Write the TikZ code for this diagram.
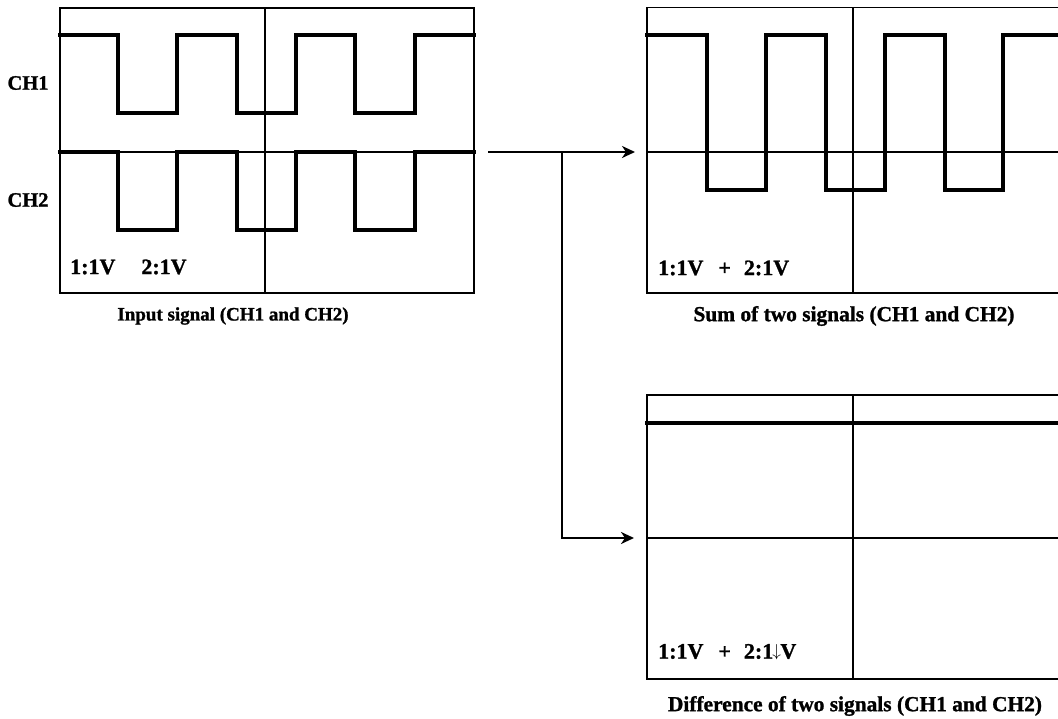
\documentclass[tikz,border=0pt]{standalone}
\usepackage{fontspec}
\setmainfont{Liberation Serif}[BoldFeatures={FakeBold=1.2}]
\usetikzlibrary{arrows.meta}
\tikzset{
  frame/.style={draw=black, line width=1.4pt, inner sep=0pt, outer sep=0pt},
  grid/.style={line width=1.4pt},
  sig/.style={line width=3.6pt, line join=miter, line cap=rect},
  conn/.style={line width=2.4pt, -{Stealth[length=13pt,width=12pt,inset=4pt]}},
  lbl/.style={font=\fontsize{20.5}{24}\selectfont\bfseries, inner sep=0pt},
  scalelbl/.style={font=\fontsize{22}{26}\selectfont\bfseries, inner sep=0pt, anchor=west},
  caplbl/.style={font=\fontsize{21.4}{25}\selectfont\bfseries, inner sep=0pt},
}
\begin{document}
\begin{tikzpicture}[x=1pt,y=-1pt]
\useasboundingbox (0,0) rectangle (1058,719);
% boxes
\node[frame, minimum width=414pt, minimum height=285pt] (inbox) at (267,150.5) {};
\node[frame, minimum width=413pt, minimum height=285.5pt] (sumbox) at (853.5,150.25) {};
\node[frame, minimum width=413pt, minimum height=284pt] (diffbox) at (853.5,537) {};
% grid lines
\draw[grid] (inbox.north -| 265,0) -- (inbox.south -| 265,0);
\draw[grid] (inbox.west |- 0,152) -- (inbox.east |- 0,152);
\draw[grid] (sumbox.north -| 853,0) -- (sumbox.south -| 853,0);
\draw[grid] (sumbox.west |- 0,152) -- (sumbox.east |- 0,152);
\draw[grid] (diffbox.north -| 853,0) -- (diffbox.south -| 853,0);
\draw[grid] (diffbox.west |- 0,538) -- (diffbox.east |- 0,538);
% signals
\draw[sig] (60,35) -- (118,35) -- (118,113) -- (177,113) -- (177,35) -- (237,35) -- (237,113) -- (296,113) -- (296,35) -- (355,35) -- (355,113) -- (415,113) -- (415,35) -- (474,35);
\draw[sig] (60,152) -- (118,152) -- (118,230) -- (177,230) -- (177,152) -- (237,152) -- (237,230) -- (296,230) -- (296,152) -- (355,152) -- (355,230) -- (415,230) -- (415,152) -- (474,152);
\draw[sig] (647,35) -- (707,35) -- (707,190) -- (766,190) -- (766,35) -- (826,35) -- (826,190) -- (885,190) -- (885,35) -- (945,35) -- (945,190) -- (1003,190) -- (1003,35) -- (1062,35);
\draw[sig] (647,423) -- (1062,423);
% labels
\node[lbl] (ch1) at (28,83) {CH1};
\node[lbl] (ch2) at (28,200) {CH2};
\node[scalelbl] (inscale) at (70,267) {1:1V\hspace{26pt}2:1V};
\node[scalelbl] (sumscale) at (658,268) {1:1V\hspace{15pt}+\hspace{13pt}2:1V};
\node[scalelbl] (diffscale) at (658,652) {1:1V\hspace{15pt}+\hspace{13pt}2:1\hspace{-1pt}\raisebox{2pt}{\fontsize{17}{17}\selectfont$\downarrow$}\hspace{-0.5pt}V};
\node[font=\fontsize{19}{22}\selectfont\bfseries, inner sep=0pt] (incap) at (233,316) {Input signal (CH1 and CH2)};
\node[caplbl] (sumcap) at (854,316) {Sum of two signals (CH1 and CH2)};
\node[caplbl] (diffcap) at (855,706) {Difference of two signals (CH1 and CH2)};
% connectors
\coordinate (src) at (488,152);
\coordinate (br) at (562,152);
\coordinate (sumin) at (635,152);
\coordinate (diffin) at (634,538);
\draw[conn] (src) -- (sumin);
\draw[conn] (br) |- (diffin);
\end{tikzpicture}
\end{document}
